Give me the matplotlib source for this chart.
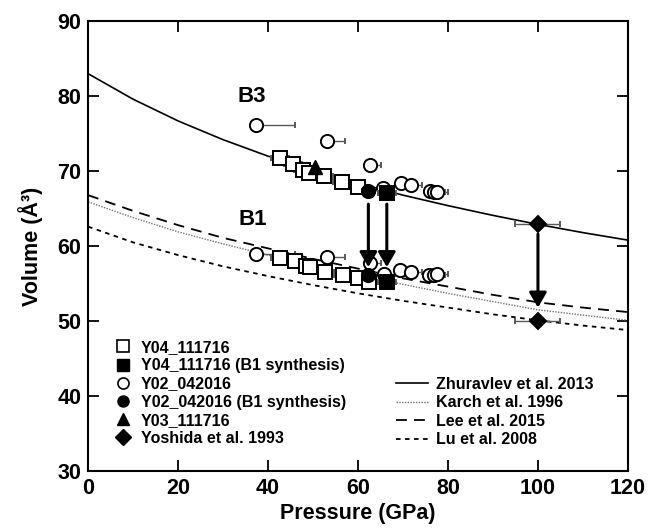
import numpy as np
import matplotlib
matplotlib.use('Agg')
from matplotlib import pyplot as plt
from matplotlib.lines import Line2D

plt.rcParams['font.family'] = ['Liberation Sans', 'DejaVu Sans']
plt.rcParams['font.weight'] = 'bold'

# EOS curves (pressure in GPa, volume in A^3)
p_curve = [0, 10, 20, 30, 40, 50, 60, 70, 80, 90, 100, 110, 120]
v_zhuravlev = [83.0, 79.6, 76.7, 74.2, 72.0, 70.1, 68.4, 66.8, 65.4, 64.1, 62.9, 61.8, 60.8]
v_karch = [65.9, 63.8, 61.9, 60.3, 58.8, 57.4, 56.1, 54.9, 53.7, 52.6, 51.5, 50.8, 50.1]
v_lee = [66.8, 64.7, 62.8, 61.1, 59.7, 58.3, 57.0, 55.7, 54.6, 53.5, 52.5, 51.8, 51.2]
v_lu = [62.6, 60.5, 58.8, 57.3, 56.0, 54.8, 53.7, 52.7, 51.8, 50.9, 50.1, 49.4, 48.8]

# Y04_111716 (open squares), B3 and B1 branches
y04_p = [42.7, 45.6, 47.8, 49.0, 52.4, 56.5, 60.0]
y04_v = [71.8, 70.9, 70.2, 69.8, 69.3, 68.5, 67.9]
y04b1_p = [42.7, 45.9, 48.5, 49.3, 52.7, 56.7, 60.1, 62.4]
y04b1_v = [58.4, 58.0, 57.4, 57.2, 56.6, 56.1, 55.7, 55.2]
y04_err = 2.0

# Y04_111716 (B1 synthesis), filled squares
y04s_p = [66.4, 66.4]
y04s_v = [67.1, 55.2]

# Y02_042016 open circles
y02_p = [37.4, 53.0, 62.7, 65.6, 69.5, 71.8, 76.0, 76.9, 77.5]
y02_v = [76.2, 74.0, 70.8, 67.8, 68.4, 68.1, 67.4, 67.2, 67.2]
y02b1_p = [37.4, 53.0, 62.7, 65.7, 69.3, 71.7, 75.8, 76.9, 77.5]
y02b1_v = [59.0, 58.5, 57.7, 56.3, 56.8, 56.6, 56.1, 56.1, 56.3]
y02_err = [8.6, 4.2, 2.5, 2.5, 2.5, 2.5, 2.5, 2.5, 2.5]

# Y02_042016 (B1 synthesis) filled circles
y02s_p = [62.3, 62.3]
y02s_v = [67.3, 56.2]

# Y03_111716 triangle
y03_p = [50.4]
y03_v = [70.6]

# Yoshida et al. 1993
yos_p = [100, 100]
yos_v = [62.9, 50.0]
yos_err = 5.0

# transition arrows
arr_p = [62.3, 66.4, 100]
arr_from = [65.6, 65.6, 61.6]
arr_to = [57.2, 57.2, 51.8]

fig = plt.figure(figsize=(6.48, 5.31), dpi=100)
ax = fig.add_axes([0.136, 0.113, 0.833, 0.847])

ax.plot(p_curve, v_zhuravlev, color='k', lw=1.2, ls='-')
ax.plot(p_curve, v_karch, color='0.45', lw=1.0, ls=(0, (1, 1)))
ax.plot(p_curve, v_lee, color='k', lw=1.3, ls=(0, (6, 4)))
ax.plot(p_curve, v_lu, color='k', lw=1.3, ls=(0, (2.5, 2.5)))

ebkw = dict(ecolor='0.35', elinewidth=1.0, capsize=2.5, capthick=1.0, ls='none')
mkw = dict(markersize=9.5, markeredgewidth=1.4, markeredgecolor='k')

for pp, vv in [(y02_p, y02_v), (y02b1_p, y02b1_v)]:
    ax.errorbar(pp, vv, xerr=[np.zeros(len(pp)), y02_err], marker='o',
                markerfacecolor='white', zorder=3, **ebkw, **mkw)
for pp, vv in [(y04_p, y04_v), (y04b1_p, y04b1_v)]:
    ax.errorbar(pp, vv, xerr=y04_err, marker='s', markerfacecolor='white',
                zorder=4, **ebkw, **mkw)
ax.errorbar(y04s_p, y04s_v, xerr=y04_err, marker='s', markerfacecolor='k',
            zorder=5, **ebkw, **mkw)
ax.errorbar(y02s_p, y02s_v, xerr=1.5, marker='o', markerfacecolor='k',
            zorder=5, **ebkw, **mkw)
ax.plot(y03_p, y03_v, marker='^', color='k', ls='none', markersize=10.5, zorder=6)
ax.errorbar(yos_p, yos_v, xerr=yos_err, marker='D', markerfacecolor='k',
            zorder=5, **ebkw, **dict(mkw, markersize=8.5))

for p, v0, v1 in zip(arr_p, arr_from, arr_to):
    ax.annotate('', xy=(p, v1), xytext=(p, v0),
                arrowprops=dict(arrowstyle='-|>,head_length=0.6,head_width=0.35',
                                color='k', lw=2.2, mutation_scale=15,
                                shrinkA=0, shrinkB=0),
                zorder=7)

ax.text(36.4, 80.0, 'B3', fontsize=16, fontweight='bold', ha='center', va='center')
ax.text(36.7, 63.5, 'B1', fontsize=16, fontweight='bold', ha='center', va='center')

ax.set_xlim(0, 120)
ax.set_ylim(30, 90)
ax.set_xticks(np.arange(0, 121, 20))
ax.set_yticks(np.arange(30, 91, 10))
ax.tick_params(direction='in', length=8, width=1.3, top=True, right=True,
               labelsize=15.5, pad=5)
for s in ax.spines.values():
    s.set_linewidth(1.5)
ax.set_xlabel('Pressure (GPa)', fontsize=15.5, fontweight='bold', labelpad=3)
ax.set_ylabel('Volume (Å³)', fontsize=15.5, fontweight='bold', labelpad=10)

# legends
mk_handles = [
    Line2D([], [], marker='s', ls='none', markerfacecolor='white', markeredgecolor='k', markersize=8, markeredgewidth=1.2),
    Line2D([], [], marker='s', ls='none', color='k', markersize=8),
    Line2D([], [], marker='o', ls='none', markerfacecolor='white', markeredgecolor='k', markersize=8, markeredgewidth=1.2),
    Line2D([], [], marker='o', ls='none', color='k', markersize=8),
    Line2D([], [], marker='^', ls='none', color='k', markersize=9),
    Line2D([], [], marker='D', ls='none', color='k', markersize=8),
]
mk_labels = ['Y04_111716', 'Y04_111716 (B1 synthesis)', 'Y02_042016',
             'Y02_042016 (B1 synthesis)', 'Y03_111716', 'Yoshida et al. 1993']
leg1 = ax.legend(mk_handles, mk_labels, loc='lower left', bbox_to_anchor=(0.035, 0.038),
                 frameon=False, prop={'weight': 'bold', 'size': 11.5},
                 handlelength=1.0, handletextpad=0.6, labelspacing=0.2, borderpad=0)
ax.add_artist(leg1)

ln_handles = [
    Line2D([], [], color='k', lw=1.2),
    Line2D([], [], color='0.45', lw=1.0, ls=(0, (1, 1))),
    Line2D([], [], color='k', lw=1.3, ls=(0, (6, 4))),
    Line2D([], [], color='k', lw=1.3, ls=(0, (2.5, 2.5))),
]
ln_labels = ['Zhuravlev et al. 2013', 'Karch et al. 1996', 'Lee et al. 2015', 'Lu et al. 2008']
ax.legend(ln_handles, ln_labels, loc='lower left', bbox_to_anchor=(0.555, 0.035),
          frameon=False, prop={'weight': 'bold', 'size': 11.5},
          handlelength=2.0, handletextpad=0.55, labelspacing=0.22, borderpad=0)

fig.savefig('out.png', dpi=100)
